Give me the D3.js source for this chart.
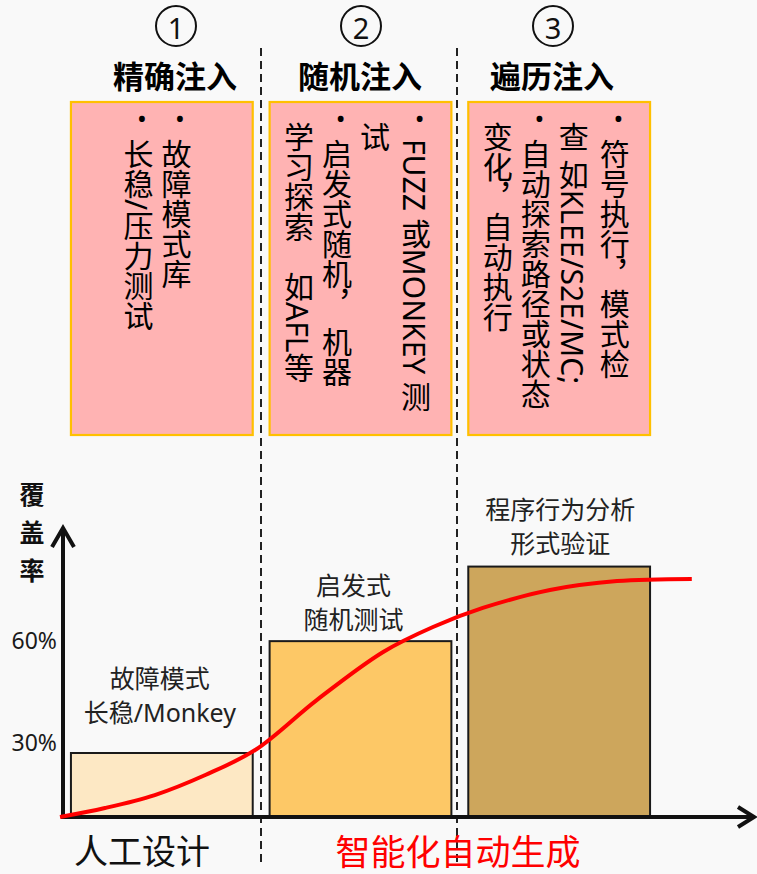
<!DOCTYPE html>
<html>
<head>
<meta charset="utf-8">
<script src="https://cdn.jsdelivr.net/npm/d3@7"></script>
<style>
  html, body { margin: 0; padding: 0; background: #f9f9f9; }
  svg { display: block; }
  text { font-family: "Noto Sans", "Noto Sans CJK SC", sans-serif; }
</style>
</head>
<body>
<script>
// ---- data ----
const categories = ["精确注入", "随机注入", "遍历注入"];
const stageNumbers = ["1", "2", "3"];
const coverage = [30, 60, 80];
const barLabels = [["故障模式", "长稳/Monkey"], ["启发式", "随机测试"], ["程序行为分析", "形式验证"]];
const tickValues = [30, 60];
const tickLabels = ["30%", "60%"];
const axisTitle = "覆盖率";
const phaseLabels = ["人工设计", "智能化自动生成"];

// method notes, one entry per vertical column (right to left); bullet marks a new item
const methodText = [
  ["故障模式库", "长稳/压力测试"],
  ["FUZZ 或MONKEY 测", "试", "启发式随机， 机器", "学习探索　如AFL等"],
  ["符号执行，模式检", "查 如KLEE/S2E/MC;", "自动探索路径或状态", "变化，自动执行"]
];
const methodBullet = [
  [true, true],
  [true, false, true, false],
  [true, false, true, false]
];

// coverage growth curve (progress 0-100 along the x axis, coverage %)
const curveProgress = [0, 6.5, 13.7, 21.0, 28.2, 37.1, 46.7, 53.9, 61.1, 70.8, 80.5, 91.3];
const curveCoverage = [0, 4.2, 10.3, 19.7, 30.8, 44.2, 57.1, 63.8, 68.9, 73.7, 76.1, 76.7];

// ---- layout ----
const W = 757, H = 874;
const barColors = ["#fde8c4", "#fdc866", "#cda65c"];
const headerCx = [176, 361, 553];
const separatorX = [261, 457];
const columnOffsets = [[104, 66], [145, 104, 66, 28], [145, 104, 66, 28]];
const labelGap = [40, 21, 23];
const labelDx = [-2, -7, 1];
const captionLine = 34;

const svg = d3.select("body").append("svg").attr("width", W).attr("height", H);
svg.append("rect").attr("width", W).attr("height", H).attr("fill", "#f9f9f9");

const x = d3.scaleBand().domain(categories).range([62, 659]).paddingInner(0.085).paddingOuter(0.045);
const y = d3.scaleLinear().domain([0, 30, 100]).range([817, 753, 492]);
const t = d3.scaleLinear().domain([0, 100]).range([60, 752]);
const bw = x.bandwidth();

// dashed phase separators
svg.selectAll("line.sep").data(separatorX).join("line")
  .attr("class", "sep")
  .attr("x1", d => d).attr("x2", d => d)
  .attr("y1", 48).attr("y2", 866)
  .attr("stroke", "#222").attr("stroke-width", 2)
  .attr("stroke-dasharray", "8,5");

// stage headers: circled number + bold title
const head = svg.selectAll("g.head").data(categories).join("g").attr("class", "head");
head.append("circle")
  .attr("cx", (d, i) => headerCx[i]).attr("cy", 26).attr("r", 20)
  .attr("fill", "none").attr("stroke", "#111").attr("stroke-width", 2);
head.append("text")
  .attr("x", (d, i) => headerCx[i]).attr("y", 27)
  .attr("text-anchor", "middle").attr("dominant-baseline", "central")
  .attr("font-size", 29).attr("fill", "#111")
  .text((d, i) => stageNumbers[i]);
head.append("text")
  .attr("x", (d, i) => headerCx[i] - 1).attr("y", 74)
  .attr("text-anchor", "middle").attr("dominant-baseline", "central")
  .attr("font-size", 31).attr("font-weight", 700).attr("fill", "#000")
  .style("font-family", "'Noto Sans CJK SC', sans-serif")
  .text(d => d);

// method boxes
const box = svg.selectAll("g.box").data(categories).join("g").attr("class", "box");
box.append("rect")
  .attr("x", d => x(d)).attr("y", 102)
  .attr("width", bw).attr("height", 333)
  .attr("fill", "#ffb3b3").attr("stroke", "#ffc000").attr("stroke-width", 2.2);

box.each(function (d, i) {
  const g = d3.select(this);
  const cols = methodText[i].map((s, j) => ({ s, bullet: methodBullet[i][j], cx: x(d) + columnOffsets[i][j] }));
  g.selectAll("text.col").data(cols).join("text")
    .attr("class", "col")
    .attr("x", c => c.cx).attr("y", c => c.bullet ? 139 : 122)
    .style("writing-mode", "vertical-rl")
    .attr("font-size", 30).attr("fill", "#000")
    .text(c => c.s);
  g.selectAll("text.bul").data(cols.filter(c => c.bullet)).join("text")
    .attr("class", "bul")
    .attr("x", c => c.cx + 5).attr("y", 118)
    .attr("text-anchor", "middle").attr("dominant-baseline", "central")
    .attr("font-size", 26).attr("fill", "#000")
    .text("•");
});

// bars
svg.selectAll("rect.bar").data(categories).join("rect")
  .attr("class", "bar")
  .attr("x", d => x(d)).attr("width", bw)
  .attr("y", (d, i) => y(coverage[i]))
  .attr("height", (d, i) => y(0) - y(coverage[i]))
  .attr("fill", (d, i) => barColors[i])
  .attr("stroke", "#1a1a1a").attr("stroke-width", 2);

// bar captions: one text block per bar, one tspan per line
svg.selectAll("text.cap").data(categories).join("text")
  .attr("class", "cap")
  .attr("text-anchor", "middle")
  .attr("font-size", 25).attr("fill", "#222")
  .each(function (d, i) {
    const cx = x(d) + bw / 2 + labelDx[i];
    const lastY = y(coverage[i]) - labelGap[i] + 9;
    const n = barLabels[i].length;
    d3.select(this).selectAll("tspan").data(barLabels[i]).join("tspan")
      .attr("x", cx)
      .attr("y", (s, k) => lastY - (n - 1 - k) * captionLine)
      .text(s => s);
  });

// y axis tick labels
const yAxis = d3.axisLeft(y).tickValues(tickValues)
  .tickFormat((d, i) => tickLabels[i]).tickSize(0).tickPadding(6);
const ga = svg.append("g").attr("transform", "translate(63,0)").call(yAxis);
ga.select(".domain").remove();
ga.selectAll("text")
  .attr("font-size", 23).attr("fill", "#1a1a1a")
  .style("font-family", "'Noto Sans', sans-serif")
  .attr("dy", (d, i) => i === 0 ? "-0.1em" : "0.3em");

// axis lines with open arrowheads
const axisG = svg.append("g").attr("stroke", "#111").attr("stroke-width", 4)
  .attr("fill", "none").attr("stroke-linecap", "butt");
axisG.append("line").attr("x1", 63).attr("x2", 63).attr("y1", y(0) + 2).attr("y2", 528);
axisG.append("polyline").attr("points", "52,547 63,528 74,547").attr("stroke-linejoin", "miter");
axisG.append("line").attr("x1", 61).attr("x2", 753).attr("y1", y(0)).attr("y2", y(0));
axisG.append("polyline").attr("points", `738,${y(0) - 10} 754,${y(0)} 738,${y(0) + 10}`);

// y axis title, stacked characters
svg.selectAll("text.ytitle").data(axisTitle.split("")).join("text")
  .attr("class", "ytitle")
  .attr("x", 32).attr("y", (d, i) => 493 + i * 38)
  .attr("text-anchor", "middle").attr("dominant-baseline", "central")
  .attr("font-size", 25).attr("font-weight", 700).attr("fill", "#111")
  .style("font-family", "'Noto Sans CJK SC', sans-serif")
  .text(d => d);

// coverage curve
const pts = curveProgress.map((p, i) => [t(p), y(curveCoverage[i])]);
svg.append("path")
  .attr("d", d3.line().curve(d3.curveCatmullRom.alpha(0.5))(pts))
  .attr("fill", "none").attr("stroke", "#ff0000").attr("stroke-width", 4)
  .attr("stroke-linecap", "butt");

// phase labels
svg.append("text")
  .attr("x", 142).attr("y", 849)
  .attr("text-anchor", "middle").attr("dominant-baseline", "central")
  .attr("font-size", 34).attr("fill", "#111")
  .style("font-family", "'Noto Sans CJK SC', sans-serif")
  .text(phaseLabels[0]);
svg.append("text")
  .attr("x", 458).attr("y", 849)
  .attr("text-anchor", "middle").attr("dominant-baseline", "central")
  .attr("font-size", 35).attr("fill", "#ff0000")
  .style("font-family", "'Noto Sans CJK SC', sans-serif")
  .text(phaseLabels[1]);
</script>
</body>
</html>
